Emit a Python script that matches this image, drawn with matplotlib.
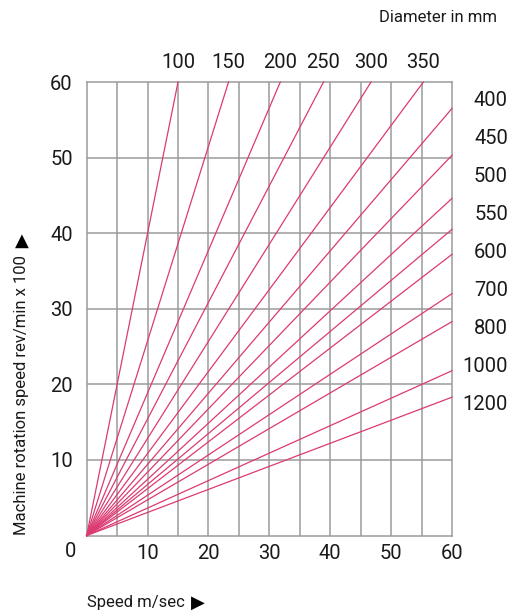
import numpy as np
import matplotlib
matplotlib.use("Agg")
import matplotlib.pyplot as plt

# --- Data ---
# diameters whose lines leave through the top edge (rev/min x100 = 60)
top_diam = [100, 150, 200, 250, 300, 350]
top_speed = [15.0, 23.3, 31.8, 38.9, 46.7, 55.3]      # m/s where line hits y=60

# diameters whose lines leave through the right edge (speed = 60 m/s)
right_diam = [400, 450, 500, 550, 600, 700, 800, 1000, 1200]
right_rpm = [56.5, 50.3, 44.6, 40.5, 37.2, 32.0, 28.3, 21.8, 18.3]  # x100 rev/min at 60 m/s

x_ticks = [10, 20, 30, 40, 50, 60]
y_ticks = [10, 20, 30, 40, 50, 60]

# --- Style ---
font = ['Roboto', 'DejaVu Sans']
line_col = '#dc3a72'
grid_col = '#9b9b9b'
txt_col = '#1a1a1a'
fs = 14.5
fw = 'normal'

fig = plt.figure(figsize=(5.22, 6.12), dpi=100)
ax = fig.add_axes([86.7 / 522, 1 - 535.5 / 612, (452 - 86.7) / 522, (535.5 - 82) / 612])
ax.set_xlim(0, 60)
ax.set_ylim(0, 60)

# grid: every 5 m/s vertically, every 10 horizontally
for gx in np.arange(5, 60, 5):
    ax.axvline(gx, color=grid_col, lw=1.1, zorder=1)
for gy in y_ticks[:-1]:
    ax.axhline(gy, color=grid_col, lw=1.1, zorder=1)
for s in ax.spines.values():
    s.set_color(grid_col)
    s.set_linewidth(1.1)

# diameter lines from origin
for d, xs in zip(top_diam, top_speed):
    ax.plot([0, xs], [0, 60], color=line_col, lw=0.9, zorder=3, clip_on=False)
    ax.text(xs, 60 + 2.6, str(d), ha='center', va='center', fontsize=fs,
            family=font, fontweight=fw, color=txt_col)
for d, ys in zip(right_diam, right_rpm):
    ax.plot([0, 60], [0, ys], color=line_col, lw=0.9, zorder=3, clip_on=False)

# right-hand labels, evenly stacked
for i, d in enumerate(right_diam):
    fig.text(508 / 522, 1 - (101 + i * 37.9) / 612, str(d), ha='right', va='center',
             fontsize=fs, family=font, fontweight=fw, color=txt_col)

ax.set_xticks(x_ticks)
ax.set_yticks(y_ticks)
ax.set_xticklabels([str(v) for v in x_ticks], fontsize=fs, family=font, fontweight=fw)
ax.set_yticklabels([str(v) for v in y_ticks], fontsize=fs, family=font, fontweight=fw)
ax.tick_params(axis='x', length=0, pad=6, labelcolor=txt_col)
ax.tick_params(axis='y', length=0, pad=10, labelcolor=txt_col)
ax.text(-2.7, -2.1, '0', ha='center', va='center', fontsize=fs, family=font,
        fontweight=fw, color=txt_col)

fig.text(438 / 522, 1 - 18 / 612, 'Diameter in mm', ha='center', va='center',
         fontsize=12, family=font, color=txt_col)

# axis titles with large arrow glyphs appended
xl = fig.text(87 / 522, 1 - 603 / 612, 'Speed m/sec', ha='left', va='center',
              fontsize=12, family=font, color=txt_col)
yl = fig.text(22 / 522, 1 - 535 / 612, 'Machine rotation speed rev/min x 100', rotation=90,
              ha='center', va='bottom', fontsize=12, family=font, color=txt_col)
r = fig.canvas.get_renderer()
bx = xl.get_window_extent(r)
by = yl.get_window_extent(r)
fig.text((bx.x1 + 6) / 522, 1 - 603 / 612, '\u25B6', ha='left', va='center',
         fontsize=13, family='DejaVu Sans', color='black')
fig.text(22 / 522, (by.y1 + 5) / 612, '\u25B2', ha='center', va='bottom',
         fontsize=13, family='DejaVu Sans', color='black')

fig.savefig('out.png', dpi=100, facecolor='white')
